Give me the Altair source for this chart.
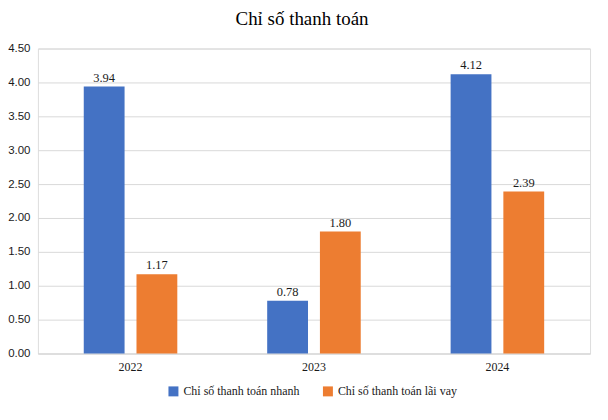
import altair as alt
import pandas as pd

years = ["2022", "2023", "2024"]
series = ["Chỉ số thanh toán nhanh", "Chỉ số thanh toán lãi vay"]
quick = [3.94, 0.78, 4.12]
interest = [1.17, 1.80, 2.39]
colors = ["#4472C4", "#ED7D31"]

rows = []
for i, y in enumerate(years):
    rows.append({"year": y, "series": series[0], "value": quick[i]})
    rows.append({"year": y, "series": series[1], "value": interest[i]})
df = pd.DataFrame(rows)

FONT = "Liberation Serif"
SANS = "Liberation Sans"

x = alt.X("year:N", title=None, sort=years,
          scale=alt.Scale(paddingInner=0.49, paddingOuter=0.25),
          axis=alt.Axis(labelAngle=0, ticks=False, domain=True, domainColor="#D9D9D9",
                        labelFont=FONT, labelFontSize=12, labelColor="#1a1a1a", labelPadding=8))
xo = alt.XOffset("series:N", sort=series, scale=alt.Scale(paddingInner=0.226, paddingOuter=0))
y = alt.Y("value:Q", title=None,
          scale=alt.Scale(domain=[0, 4.5], nice=False),
          axis=alt.Axis(values=[0, 0.5, 1, 1.5, 2, 2.5, 3, 3.5, 4, 4.5], format=".2f",
                        domain=False, ticks=False, gridColor="#D9D9D9",
                        labelFont=SANS, labelFontSize=11.5, labelColor="#1a1a1a", labelPadding=8))

base = alt.Chart(df).encode(x=x, xOffset=xo, y=y)

bars = base.mark_bar().encode(
    color=alt.Color("series:N", sort=series,
                    scale=alt.Scale(domain=series, range=colors),
                    legend=alt.Legend(title=None, orient="none", direction="horizontal",
                                      legendX=130, legendY=338, symbolType="square",
                                      symbolSize=100, labelFont=FONT, labelFontSize=12,
                                      labelColor="#1a1a1a", columnPadding=22, labelLimit=300))
)
labels = base.mark_text(dy=-9, font=FONT, fontSize=12.5, color="#1a1a1a").encode(
    text=alt.Text("value:Q", format=".2f")
)

chart = (bars + labels).properties(
    width=554, height=306,
    autosize=alt.AutoSizeParams(type="none"),
    padding={"left": 30, "top": 40, "right": 10, "bottom": 58},
    title=alt.TitleParams("Chỉ số thanh toán", font=FONT, fontSize=19, fontWeight="normal",
                          color="#000000", anchor="middle", dx=-12, offset=14),
).configure_view(stroke=None).configure(background="white")

chart.save("out.html", embed_options={"renderer": "svg", "actions": False})
